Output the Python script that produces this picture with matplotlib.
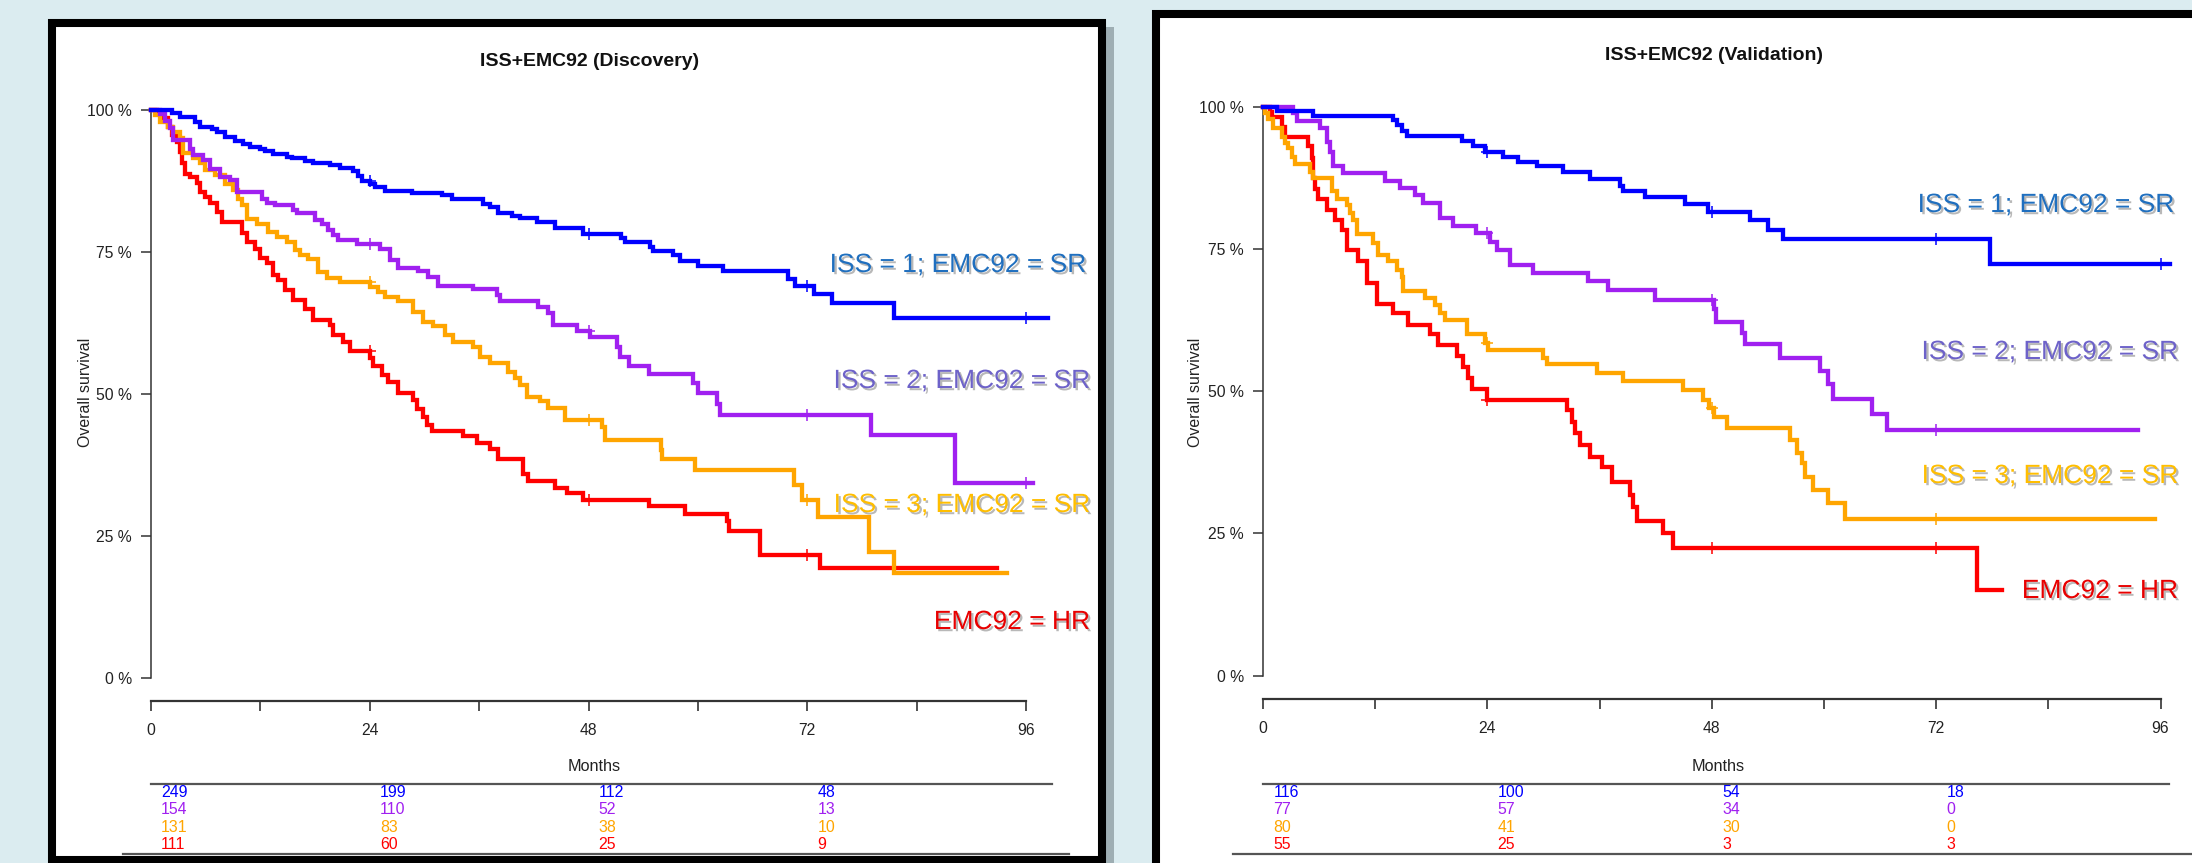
import numpy as np
import matplotlib
matplotlib.use("Agg")
import matplotlib.pyplot as plt
from matplotlib import transforms
from matplotlib.patches import Rectangle
from matplotlib.lines import Line2D
import matplotlib.patheffects as pe

plt.rcParams['font.family'] = ['Liberation Sans', 'DejaVu Sans']

# ---------------- data ----------------
# Discovery panel (months, survival)
d_blue_t = [0, 2.27, 3.18, 4.83, 5.38, 6.66, 7.2, 8.12, 9.22, 10.13, 10.86, 11.96, 12.51, 13.42, 14.88,
            15.43, 16.89, 17.81, 19.64, 20.73, 22.2, 22.75, 23.11, 24.03, 24.57, 25.67, 28.6, 31.9, 32.99,
            36.46, 37.19, 38.11, 39.57, 40.48, 42.31, 44.32, 47.43, 51.6, 52.0, 54.75, 55.1, 57.3, 58.0,
            60.05, 62.8, 69.9, 70.7, 72.7, 74.7, 81.5]
d_blue_s = [1.0, 0.994, 0.987, 0.979, 0.970, 0.966, 0.961, 0.953, 0.945, 0.941, 0.935, 0.931, 0.927, 0.922,
            0.918, 0.915, 0.911, 0.906, 0.903, 0.898, 0.892, 0.884, 0.875, 0.869, 0.864, 0.858, 0.854, 0.850,
            0.844, 0.835, 0.829, 0.819, 0.814, 0.809, 0.803, 0.792, 0.781, 0.774, 0.767, 0.759, 0.752, 0.745,
            0.735, 0.726, 0.716, 0.702, 0.690, 0.676, 0.660, 0.633]
d_blue_end = 98.4
d_blue_cens = [24, 48, 72, 96]

d_purple_t = [0, 1.0, 1.5, 2.1, 2.45, 4.28, 4.64, 5.74, 6.47, 7.57, 8.67, 9.40, 12.14, 12.69, 13.6, 15.6,
              15.98, 17.99, 18.72, 19.46, 20.0, 20.55, 22.56, 25.12, 26.22, 27.13, 29.33, 30.43, 31.52,
              35.36, 37.92, 38.29, 42.5, 43.59, 44.14, 46.7, 48.16, 51.1, 51.45, 52.4, 54.6, 59.5, 60.05,
              62.06, 62.4, 79.0, 88.2]
d_purple_s = [1.0, 0.993, 0.980, 0.968, 0.948, 0.932, 0.921, 0.912, 0.896, 0.882, 0.876, 0.856, 0.844,
              0.837, 0.832, 0.824, 0.818, 0.806, 0.800, 0.788, 0.780, 0.771, 0.764, 0.755, 0.736, 0.722,
              0.716, 0.706, 0.690, 0.684, 0.674, 0.664, 0.654, 0.642, 0.621, 0.611, 0.600, 0.583, 0.566,
              0.550, 0.536, 0.519, 0.502, 0.483, 0.463, 0.428, 0.343]
d_purple_end = 96.8
d_purple_cens = [24, 48, 72, 96]

d_orange_t = [0, 0.44, 0.99, 1.90, 2.45, 3.18, 3.55, 4.64, 5.38, 5.92, 7.02, 8.12, 9.03, 9.58, 9.95, 10.5,
              11.59, 12.87, 13.79, 14.88, 15.8, 16.35, 17.26, 18.36, 19.27, 20.73, 24.03, 24.94, 25.67,
              27.13, 28.78, 29.88, 30.97, 32.25, 33.17, 35.36, 36.09, 37.19, 39.2, 39.93, 40.48, 41.21,
              42.68, 43.59, 45.42, 49.45, 49.8, 55.9, 56.1, 59.7, 70.5, 71.4, 73.2, 78.8, 81.5]
d_orange_s = [1.0, 0.991, 0.979, 0.970, 0.962, 0.950, 0.924, 0.915, 0.906, 0.894, 0.886, 0.869, 0.859,
              0.844, 0.832, 0.808, 0.800, 0.786, 0.777, 0.768, 0.754, 0.745, 0.738, 0.715, 0.705, 0.697,
              0.689, 0.680, 0.671, 0.664, 0.645, 0.627, 0.620, 0.604, 0.592, 0.583, 0.566, 0.555, 0.539,
              0.529, 0.516, 0.495, 0.487, 0.475, 0.454, 0.442, 0.419, 0.401, 0.385, 0.367, 0.339, 0.313,
              0.284, 0.222, 0.185]
d_orange_end = 93.9
d_orange_cens = [24, 48, 72]

d_red_t = [0, 0.62, 1.35, 1.90, 2.27, 2.81, 3.18, 3.36, 3.73, 4.28, 5.01, 5.38, 5.92, 6.47, 7.2, 7.75,
           9.95, 10.5, 11.41, 11.96, 12.69, 13.42, 13.97, 14.7, 15.61, 16.89, 17.81, 19.64, 20.0, 21.1,
           21.83, 24.03, 24.39, 25.3, 26.04, 27.13, 28.78, 29.15, 29.88, 30.24, 30.79, 34.27, 35.73,
           37.19, 38.11, 40.85, 41.4, 44.32, 45.6, 47.43, 54.6, 58.6, 63.2, 63.4, 66.8, 73.4]
d_red_s = [1.0, 0.994, 0.986, 0.970, 0.956, 0.944, 0.926, 0.906, 0.888, 0.882, 0.871, 0.856, 0.847, 0.837,
           0.821, 0.802, 0.783, 0.768, 0.756, 0.739, 0.730, 0.709, 0.700, 0.683, 0.666, 0.650, 0.631,
           0.621, 0.604, 0.592, 0.576, 0.563, 0.550, 0.533, 0.521, 0.501, 0.490, 0.474, 0.459, 0.445,
           0.435, 0.426, 0.414, 0.404, 0.385, 0.360, 0.346, 0.334, 0.325, 0.313, 0.302, 0.289, 0.276,
           0.259, 0.216, 0.193]
d_red_end = 92.8
d_red_cens = [24, 48, 72]

# Validation panel
v_blue_t = [0, 1.46, 5.38, 13.94, 14.3, 14.83, 15.37, 21.25, 22.5, 23.74, 25.7, 27.3, 29.27, 32.12, 34.97,
            38.18, 38.54, 40.86, 45.13, 47.63, 52.08, 54.04, 55.65, 77.75]
v_blue_s = [1.0, 0.993, 0.984, 0.977, 0.968, 0.957, 0.949, 0.940, 0.931, 0.921, 0.912, 0.903, 0.895, 0.885,
            0.873, 0.860, 0.852, 0.842, 0.829, 0.815, 0.800, 0.784, 0.767, 0.724]
v_blue_end = 97.0
v_blue_cens = [24, 48, 72, 96]

v_purple_t = [0, 3.24, 3.6, 6.1, 6.81, 7.2, 7.52, 8.59, 13.05, 14.65, 16.26, 17.15, 18.93, 20.3, 22.8,
              24.28, 24.99, 26.4, 28.9, 34.8, 36.93, 41.92, 48.2, 48.5, 51.2, 51.55, 55.3, 59.57, 60.46,
              60.99, 65.1, 66.7]
v_purple_s = [1.0, 0.988, 0.975, 0.962, 0.938, 0.921, 0.896, 0.883, 0.869, 0.857, 0.845, 0.830, 0.804,
              0.791, 0.778, 0.763, 0.748, 0.722, 0.707, 0.693, 0.678, 0.660, 0.644, 0.622, 0.603, 0.583,
              0.559, 0.536, 0.512, 0.487, 0.460, 0.431]
v_purple_end = 93.6
v_purple_cens = [24, 48, 72]

v_orange_t = [0, 0.21, 0.57, 1.1, 2.0, 2.35, 2.71, 3.07, 3.42, 5.03, 5.38, 7.34, 7.88, 8.95, 9.3, 9.66,
              10.02, 11.8, 12.33, 13.4, 14.3, 14.83, 15.0, 17.33, 18.4, 18.93, 19.47, 21.78, 23.74, 24.1,
              29.98, 30.34, 35.7, 38.54, 44.96, 47.1, 47.7, 48.2, 49.59, 56.36, 57.08, 57.61, 57.97,
              58.86, 60.46, 62.25]
v_orange_s = [1.0, 0.988, 0.978, 0.963, 0.947, 0.936, 0.927, 0.912, 0.900, 0.886, 0.875, 0.851, 0.838,
              0.827, 0.813, 0.801, 0.776, 0.760, 0.739, 0.728, 0.713, 0.701, 0.676, 0.663, 0.651, 0.637,
              0.625, 0.601, 0.584, 0.573, 0.559, 0.547, 0.532, 0.518, 0.502, 0.485, 0.470, 0.454, 0.436,
              0.414, 0.392, 0.374, 0.350, 0.326, 0.303, 0.275]
v_orange_end = 95.4
v_orange_cens = [24, 48, 72]

v_red_t = [0, 0.75, 0.93, 2.0, 2.35, 4.85, 5.21, 5.38, 5.56, 5.92, 6.81, 7.7, 8.41, 8.95, 10.2, 11.09,
           12.16, 13.94, 15.55, 17.86, 18.75, 20.71, 21.43, 21.96, 22.32, 23.92, 32.48, 33.01, 33.37,
           33.9, 34.97, 36.22, 37.29, 39.25, 39.6, 39.96, 42.8, 43.88, 76.33]
v_red_s = [1.0, 0.991, 0.982, 0.965, 0.946, 0.930, 0.909, 0.874, 0.856, 0.838, 0.818, 0.801, 0.783, 0.748,
           0.729, 0.691, 0.654, 0.637, 0.616, 0.600, 0.581, 0.561, 0.543, 0.524, 0.504, 0.484, 0.467,
           0.445, 0.426, 0.405, 0.385, 0.366, 0.341, 0.317, 0.297, 0.272, 0.250, 0.225, 0.151]
v_red_end = 79.0
v_red_cens = [24, 48, 72]

# numbers at risk (rows: ISS1, ISS2, ISS3, HR)
risk_times = [0, 24, 48, 72]
d_risk_blue = [249, 199, 112, 48]
d_risk_purple = [154, 110, 52, 13]
d_risk_orange = [131, 83, 38, 10]
d_risk_red = [111, 60, 25, 9]
v_risk_blue = [116, 100, 54, 18]
v_risk_purple = [77, 57, 34, 0]
v_risk_orange = [80, 41, 30, 0]
v_risk_red = [55, 25, 3, 3]

group_labels = ["ISS = 1; EMC92 = SR", "ISS = 2; EMC92 = SR", "ISS = 3; EMC92 = SR", "EMC92 = HR"]
x_ticks = [0, 24, 48, 72, 96]
x_minor = [12, 36, 60, 84]
y_ticks = [0, 0.25, 0.5, 0.75, 1.0]
y_ticklabels = ["0 %", "25 %", "50 %", "75 %", "100 %"]

# ---------------- styling ----------------
W, H = 2192, 863
line_colors = ['#0000ff', '#a020f0', '#ffa500', '#ff0000']
label_colors = ['#1f6fbf', '#6d62c9', '#ffbe00', '#e80000']
bg = '#dbecf0'
TXT = '#222222'


def fx(x):
    return x / W


def fy(y):
    return 1 - y / H


fig = plt.figure(figsize=(W / 100, H / 100), dpi=100, facecolor=bg)

# panel frames (with subtle shadow)
fig.patches.append(Rectangle((fx(60), fy(875)), fx(1114) - fx(60), fy(27) - fy(875),
                             transform=fig.transFigure, facecolor='#9eaeb3', edgecolor='none', zorder=0))
fig.patches.append(Rectangle((fx(52), fy(859.5)), fx(1102) - fx(52), fy(23) - fy(859.5),
                             transform=fig.transFigure, facecolor='white', edgecolor='black',
                             linewidth=5.8, zorder=1))
fig.patches.append(Rectangle((fx(1156), fy(900)), fx(2260) - fx(1156), fy(13.5) - fy(900),
                             transform=fig.transFigure, facecolor='white', edgecolor='black',
                             linewidth=5.8, zorder=1, clip_on=False))


def panel(ax_rect, title, title_xy, ylab_x, curves, risks, labels_pos, table):
    ax = fig.add_axes(ax_rect)
    ax.set_zorder(3)
    ax.patch.set_alpha(0)
    ax.set_xlim(-3.84, 99.84)
    ax.set_ylim(-0.04, 1.04)
    for k, (t, s, end, cens) in enumerate(curves):
        t = np.asarray(t, float)
        s = np.asarray(s, float)
        ax.step(np.append(t, end), np.append(s, s[-1]), where='post', color=line_colors[k],
                lw=3.1, solid_joinstyle='miter', zorder=3 + (3 - k) * 0.1)
        cv = [s[np.searchsorted(t, c, side='right') - 1] for c in cens]
        ax.plot(cens, cv, ls='none', marker='+', ms=9, mew=1.1, color=line_colors[k], zorder=4)
    for sp in ['top', 'right']:
        ax.spines[sp].set_visible(False)
    ax.spines['left'].set_position(('data', 0))
    ax.spines['left'].set_bounds(0, 1)
    ax.spines['left'].set_linewidth(1.1)
    ax.spines['left'].set_color('#333333')
    ax.spines['bottom'].set_bounds(0, 96)
    ax.spines['bottom'].set_linewidth(1.6)
    ax.spines['bottom'].set_color('#333333')
    ax.set_xticks(x_ticks)
    ax.set_xticks(x_minor, minor=True)
    ax.set_yticks(y_ticks)
    ax.set_yticklabels(y_ticklabels)
    ax.tick_params(axis='x', which='both', length=7.2, width=1.2, color='#333333',
                   labelsize=11.3, labelcolor=TXT, pad=9)
    ax.tick_params(axis='y', length=7.2, width=1.1, color='#333333', labelsize=11.3,
                   labelcolor=TXT, pad=6.5)
    # title, axis labels
    fig.text(fx(title_xy[0]), fy(title_xy[1]), title, ha='center', va='center',
             fontsize=14, fontweight='bold', color='#111111')
    fig.text(fx(ylab_x), fy(392), 'Overall survival', rotation=90, ha='center', va='center',
             fontsize=11.4, color=TXT)
    fig.text(fx(title_xy[0] + 4), fy(766), 'Months', ha='center', va='center',
             fontsize=11.7, color=TXT)
    # group labels
    for k, (xr, yc) in enumerate(labels_pos):
        fig.text(fx(xr), fy(yc), group_labels[k], ha='right', va='center', fontsize=19,
                 color=label_colors[k],
                 path_effects=[pe.SimplePatchShadow(offset=(1.6, -1.6), shadow_rgbFace='#7f7f7f',
                                                    alpha=0.55), pe.Normal()])
    # numbers at risk table
    (top_x0, top_x1), (bot_x0, bot_x1) = table
    fig.add_artist(Line2D([fx(top_x0), fx(top_x1)], [fy(784), fy(784)], color='#555555', lw=1.6))
    fig.add_artist(Line2D([fx(bot_x0), fx(bot_x1)], [fy(854), fy(854)], color='#555555', lw=1.6))
    trans = transforms.blended_transform_factory(ax.transData, fig.transFigure)
    row_y = [792, 809, 827, 844]
    for k, row in enumerate(risks):
        for tt, n in zip(risk_times, row):
            ax.text(tt + 1.1, fy(row_y[k]), str(n), transform=trans, ha='left', va='center',
                    fontsize=11.4, color=line_colors[k], clip_on=False)
    return ax


panel([fx(116), fy(700.7), fx(1061) - fx(116), fy(87.3) - fy(700.7)],
      'ISS+EMC92 (Discovery)', (590, 61), 86,
      [(d_blue_t, d_blue_s, d_blue_end, d_blue_cens),
       (d_purple_t, d_purple_s, d_purple_end, d_purple_cens),
       (d_orange_t, d_orange_s, d_orange_end, d_orange_cens),
       (d_red_t, d_red_s, d_red_end, d_red_cens)],
      [d_risk_blue, d_risk_purple, d_risk_orange, d_risk_red],
      [(1086, 265), (1090, 381), (1090, 505), (1090, 622)],
      ((151, 1052), (123, 1069)))

panel([fx(1227.1), fy(698.5), fx(2196.4) - fx(1227.1), fy(83.9) - fy(698.5)],
      'ISS+EMC92 (Validation)', (1714, 56), 1196,
      [(v_blue_t, v_blue_s, v_blue_end, v_blue_cens),
       (v_purple_t, v_purple_s, v_purple_end, v_purple_cens),
       (v_orange_t, v_orange_s, v_orange_end, v_orange_cens),
       (v_red_t, v_red_s, v_red_end, v_red_cens)],
      [v_risk_blue, v_risk_purple, v_risk_orange, v_risk_red],
      [(2174, 205), (2178, 352), (2178, 476), (2178, 591)],
      ((1263, 2169), (1233, 2192)))

fig.savefig('out.png', dpi=100, facecolor=bg)
